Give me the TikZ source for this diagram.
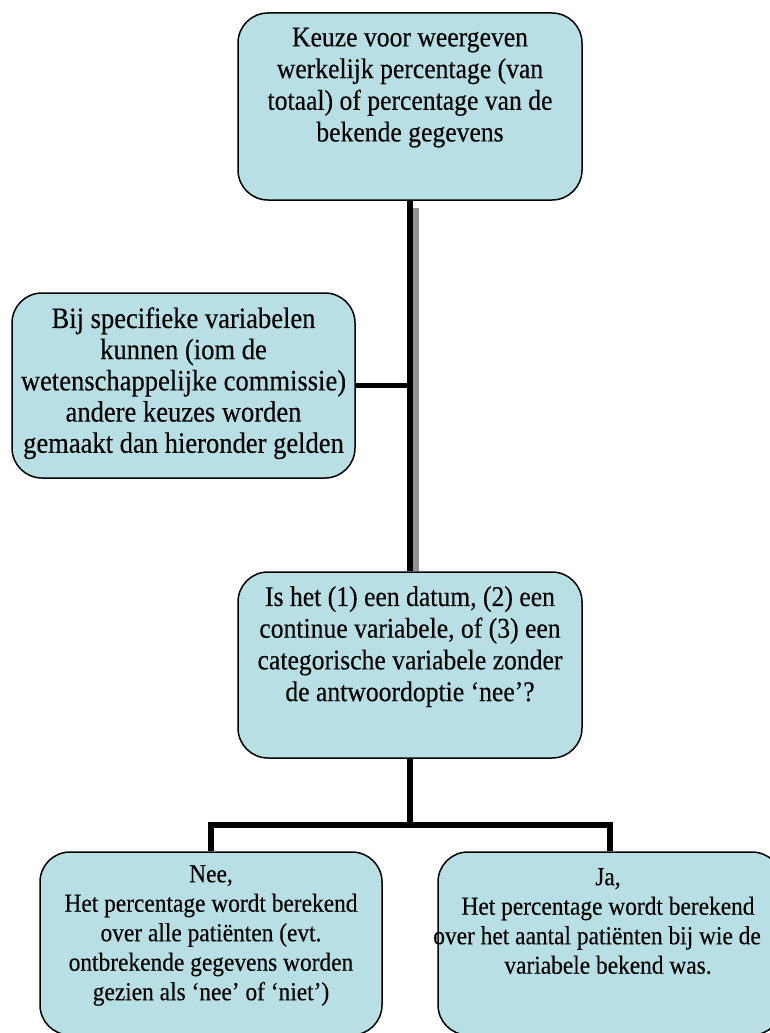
\documentclass[tikz,border=0pt]{standalone}
\usepackage{fontspec}
\setmainfont{Liberation Serif}[FakeStretch=0.9,FakeBold=0.25]
\definecolor{boxfill}{RGB}{184,223,227}
\tikzset{
  flowbox/.style={draw=black, line width=1.5pt, fill=boxfill, rounded corners=30pt,
    minimum width=344pt, inner sep=0pt},
  boxtext/.style={anchor=north, align=center, inner sep=0pt,
    font=\fontsize{28.5}{31.7}\selectfont},
  boxtextl/.style={anchor=north, align=center, inner sep=0pt,
    font=\fontsize{29.5}{31.2}\selectfont},
  boxtextb/.style={anchor=north, align=center, inner sep=0pt,
    font=\fontsize{26}{29.5}\selectfont},
  conn/.style={line width=5.5pt, draw=black}
}
\begin{document}
\begin{tikzpicture}[x=1pt,y=-1pt]
\useasboundingbox (0,0) rectangle (770,1033);
\clip (0,0) rectangle (770,1033);
% boxes
\node[flowbox, minimum height=187pt] (t) at (410,106.5) {};
\node[flowbox, minimum width=343pt, minimum height=185pt] (l) at (183.5,385.5) {};
\node[flowbox, minimum height=186pt] (m) at (410,665) {};
\node[flowbox, minimum width=342pt, minimum height=183pt] (bl) at (211,943.5) {};
\node[flowbox, minimum height=183pt] (br) at (610,943.5) {};
% texts
\node[boxtext] (tt) at (410,27.5) {Keuze voor weergeven\\werkelijk percentage (van\\totaal) of percentage van de\\bekende gegevens};
\node[boxtextl] (lt) at (183.5,307) {Bij specifieke variabelen\\kunnen (iom de\\wetenschappelijke commissie)\\andere keuzes worden\\gemaakt dan hieronder gelden};
\node[boxtext] (mt) at (410,586) {Is het (1) een datum, (2) een\\continue variabele, of (3) een\\categorische variabele zonder\\de antwoordoptie `nee'?};
\node[boxtextb] (blt) at (211,865) {Nee,\\Het percentage wordt berekend\\over alle patiënten (evt.\\ontbrekende gegevens worden\\gezien als `nee' of `niet')};
\node[boxtextb] (brt) at (608,868) {Ja,\\Het percentage wordt berekend\\\hspace*{-22pt}over het aantal patiënten bij wie de\\variabele bekend was.};
% connectors
\fill[gray!85] ([xshift=3pt,yshift=-7pt]t.south) rectangle ([xshift=9pt]m.north);
\draw[conn] (t.south) -- (m.north);
\draw[conn] (l.east) -- (l.east -| t.south);
\coordinate (j) at ([yshift=-66pt]m.south);
\draw[conn] (m.south) -- (j);
\draw[conn] (j) -| (bl.north);
\draw[conn] (j) -| (br.north);
\end{tikzpicture}
\end{document}
